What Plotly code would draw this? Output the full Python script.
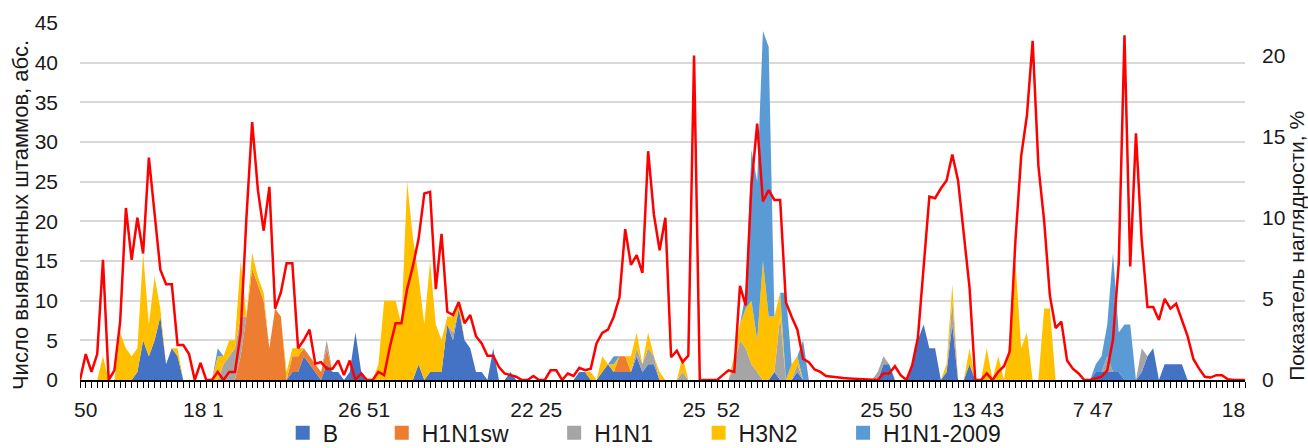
import plotly.graph_objects as go

# Weekly counts of detected influenza strains (stacked areas, left axis)
b_strain = [
    0, 0, 0, 0, 0, 0, 0, 0, 0, 0, 1, 5, 3, 5, 8, 2, 4,
    3, 0, 0, 0, 0, 0, 0, 0, 0, 0, 0, 0, 0, 0, 0, 0, 0,
    0, 0, 0, 1, 1, 3, 2, 1, 0, 2, 1, 1, 0, 1, 6, 1, 0,
    0, 0, 0, 0, 0, 0, 0, 0, 2, 0, 1, 1, 1, 7, 5, 9, 5,
    4, 1, 1, 0, 4, 0, 0, 1, 0, 0, 0, 0, 0, 0, 0, 0, 0,
    0, 0, 1, 1, 0, 0, 1, 2, 1, 1, 1, 1, 3, 1, 2, 2, 0,
    0, 0, 0, 0, 0, 0, 0, 0, 0, 0, 0, 0, 0, 0, 0, 0, 0,
    0, 0, 1, 0, 0, 0, 1, 0, 0, 0, 0, 0, 0, 0, 0, 0, 0,
    0, 0, 0, 0, 2, 2, 0, 0, 0, 2, 5, 7, 4, 4, 0, 1, 7,
    0, 0, 2, 0, 0, 0, 0, 0, 0, 0, 0, 0, 0, 0, 0, 0, 0,
    0, 0, 0, 0, 0, 0, 0, 1, 1, 1, 1, 1, 0, 0, 0, 1, 3,
    4, 0, 2, 2, 2, 2, 0, 0, 0, 0, 0, 0, 0, 0, 0, 0, 0,
]
h1n1sw = [
    0, 0, 0, 0, 0, 0, 0, 0, 0, 0, 0, 0, 0, 0, 0, 0, 0,
    0, 0, 0, 0, 0, 0, 0, 0, 0, 0, 0, 3, 8, 14, 12, 10, 4,
    9, 8, 0, 2, 2, 1, 1, 1, 1, 2, 0, 0, 0, 0, 0, 0, 0,
    0, 0, 0, 0, 0, 0, 0, 0, 0, 0, 0, 0, 0, 0, 0, 0, 0,
    0, 0, 0, 0, 0, 0, 0, 0, 0, 0, 0, 0, 0, 0, 0, 0, 0,
    0, 0, 0, 0, 0, 0, 0, 0, 0, 2, 2, 0, 0, 0, 0, 0, 0,
    0, 0, 0, 0, 0, 0, 0, 0, 0, 0, 0, 0, 0, 0, 0, 0, 0,
    0, 0, 0, 0, 0, 0, 0, 0, 0, 0, 0, 0, 0, 0, 0, 0, 0,
    0, 0, 0, 0, 0, 0, 0, 0, 0, 0, 0, 0, 0, 0, 0, 0, 0,
    0, 0, 0, 0, 0, 0, 0, 0, 0, 0, 0, 0, 0, 0, 0, 0, 0,
    0, 0, 0, 0, 0, 0, 0, 0, 0, 0, 0, 0, 0, 0, 0, 0, 0,
    0, 0, 0, 0, 0, 0, 0, 0, 0, 0, 0, 0, 0, 0, 0, 0, 0,
]
h1n1 = [
    0, 0, 0, 0, 0, 0, 0, 0, 0, 0, 0, 0, 0, 0, 0, 0, 0,
    0, 0, 0, 0, 0, 0, 0, 0, 2, 3, 4, 5, 0, 0, 0, 0, 0,
    0, 0, 0, 0, 0, 0, 0, 0, 0, 1, 0, 0, 0, 0, 0, 0, 0,
    0, 0, 0, 0, 0, 0, 0, 0, 0, 0, 0, 0, 0, 0, 1, 0, 0,
    0, 0, 0, 0, 0, 0, 0, 0, 0, 0, 0, 0, 0, 0, 0, 0, 0,
    0, 0, 0, 0, 0, 0, 0, 0, 0, 0, 0, 0, 1, 1, 2, 1, 0,
    0, 0, 0, 1, 0, 0, 0, 0, 0, 0, 0, 0, 2, 5, 4, 2, 1,
    0, 0, 0, 8, 0, 0, 1, 0, 0, 0, 0, 0, 0, 0, 0, 0, 0,
    0, 0, 0, 1, 1, 0, 0, 0, 0, 0, 0, 0, 0, 0, 0, 0, 3,
    0, 0, 0, 0, 0, 0, 0, 0, 0, 0, 0, 0, 0, 0, 0, 0, 0,
    0, 0, 0, 0, 0, 0, 0, 0, 0, 2, 0, 0, 0, 0, 0, 3, 0,
    0, 0, 0, 0, 0, 0, 0, 0, 0, 0, 0, 0, 0, 0, 0, 0, 0,
]
h3n2 = [
    0, 0, 0, 0, 3, 0, 0, 6, 4, 3, 3, 11, 4, 8, 1, 0, 0,
    1, 0, 0, 0, 0, 0, 0, 3, 1, 2, 1, 7, 0, 2, 1, 1, 0,
    0, 0, 1, 1, 1, 0, 0, 0, 0, 0, 0, 0, 0, 0, 0, 0, 0,
    0, 2, 10, 10, 10, 7, 25, 18, 11, 7, 14, 6, 4, 1, 2, 1, 0,
    0, 0, 0, 0, 0, 0, 0, 0, 0, 0, 0, 0, 0, 0, 0, 0, 0,
    0, 0, 0, 0, 1, 0, 2, 0, 1, 0, 0, 2, 2, 0, 2, 0, 1,
    0, 0, 0, 2, 0, 0, 0, 0, 0, 0, 0, 0, 1, 2, 5, 8, 4,
    15, 8, 7, 3, 0, 2, 1, 0, 0, 0, 0, 0, 0, 0, 0, 0, 0,
    0, 0, 0, 0, 0, 0, 0, 0, 0, 0, 0, 0, 0, 0, 0, 1, 2,
    0, 0, 2, 0, 0, 4, 0, 3, 0, 5, 15, 4, 6, 0, 0, 9, 9,
    0, 0, 0, 0, 0, 0, 0, 0, 0, 0, 0, 0, 0, 0, 0, 0, 0,
    0, 0, 0, 0, 0, 0, 0, 0, 0, 0, 0, 0, 0, 0, 0, 0, 0,
]
h1n1_2009 = [
    0, 0, 0, 0, 0, 0, 0, 0, 0, 0, 0, 0, 0, 0, 0, 0, 0,
    0, 0, 0, 0, 0, 0, 0, 1, 0, 0, 0, 0, 0, 0, 0, 0, 0,
    0, 0, 0, 0, 0, 0, 0, 0, 0, 0, 0, 0, 0, 0, 0, 0, 0,
    0, 0, 0, 0, 0, 0, 0, 0, 0, 0, 0, 0, 0, 0, 0, 0, 0,
    0, 0, 0, 0, 0, 0, 0, 0, 0, 0, 0, 0, 0, 0, 0, 0, 0,
    0, 0, 0, 0, 0, 0, 0, 0, 1, 0, 0, 0, 0, 0, 0, 0, 0,
    0, 0, 0, 0, 0, 0, 0, 0, 0, 0, 0, 0, 0, 0, 2, 19, 20,
    29, 34, 0, 0, 11, 0, 0, 5, 0, 0, 0, 0, 0, 0, 0, 0, 0,
    0, 0, 0, 0, 0, 0, 0, 0, 0, 0, 0, 0, 0, 0, 0, 0, 0,
    0, 0, 0, 0, 0, 0, 0, 0, 0, 0, 0, 0, 0, 0, 0, 0, 0,
    0, 0, 0, 0, 0, 0, 0, 1, 2, 4, 15, 5, 7, 7, 0, 0, 0,
    0, 0, 0, 0, 0, 0, 0, 0, 0, 0, 0, 0, 0, 0, 0, 0, 0,
]

# Weekly visibility index, % (red line, right axis)
visibility_pct = [
    0, 1.6, 0.5, 1.6, 7.4, 0, 0.6, 3.6, 10.6, 7.4, 10.0, 7.8, 13.7, 10.25, 6.8, 5.9, 5.9,
    2.15, 2.15, 1.6, 0, 1.06, 0, 0, 0.5, 0, 0.5, 0.5, 2.9, 10.0, 15.9, 11.7, 9.2, 11.9,
    4.4, 5.4, 7.2, 7.2, 1.95, 2.46, 3.1, 1.0, 1.1, 0.7, 0.7, 1.2, 0.3, 1.2, 0, 0.4, 0,
    0, 0.5, 0.3, 2.05, 3.5, 3.5, 5.6, 7.0, 8.7, 11.5, 11.6, 5.6, 9.0, 4.2, 4.0, 4.8, 3.5,
    4.0, 2.7, 2.25, 1.5, 1.5, 0.8, 0.4, 0.3, 0.2, 0, 0, 0.25, 0, 0, 0.6, 0.6, 0,
    0.4, 0.25, 0.75, 0.6, 0.7, 2.25, 2.9, 3.1, 3.9, 5.1, 9.3, 7.1, 7.7, 6.6, 14.1, 10.2, 8.0,
    10.0, 1.4, 1.8, 1.1, 1.5, 20.0, 0, 0, 0, 0, 0.3, 0.6, 0.5, 5.8, 4.6, 12.0, 15.8,
    11.0, 11.7, 11.1, 11.1, 4.8, 3.9, 3.1, 1.3, 1.1, 0.65, 0.5, 0.25, 0.2, 0.15, 0.12, 0.1, 0.08,
    0.05, 0.05, 0, 0, 0.4, 0.4, 0.85, 0.3, 0, 0.9, 2.6, 6.8, 11.3, 11.2, 11.8, 12.3, 13.9,
    12.3, 9.0, 5.7, 0, 0, 0.4, 0, 0.5, 0.85, 1.75, 8.6, 13.8, 16.3, 20.9, 13.2, 9.8, 5.2,
    3.2, 3.6, 1.2, 0.7, 0.4, 0, 0, 0.1, 0.2, 0.6, 2.5, 7.2, 21.25, 7.0, 15.2, 8.6, 4.5,
    4.5, 3.7, 5.0, 4.4, 4.7, 3.7, 2.7, 1.3, 0.7, 0.2, 0.15, 0.3, 0.3, 0.05, 0, 0, 0,
]

# Week-number labels shown under the axis and the week slots they belong to
week_labels = ["50", "18", "1", "26", "51", "22", "25", "25", "52", "25", "50", "13", "43", "7", "47", "18"]
week_slots = [1, 20, 24, 47, 52, 77, 82, 107, 113, 138, 143, 154, 159, 174, 178, 201]

series_names = ["B", "H1N1sw", "H1N1", "H3N2", "H1N1-2009"]
series_values = [b_strain, h1n1sw, h1n1, h3n2, h1n1_2009]
series_colors = ["#4472C4", "#ED7D31", "#A5A5A5", "#FFC000", "#5B9BD5"]

FONT = "Liberation Sans, Arial, sans-serif"
TEXT = "#1a1a1a"
weeks = list(range(len(b_strain)))

fig = go.Figure()

for name, vals, color in zip(series_names, series_values, series_colors):
    fig.add_trace(go.Scatter(
        x=weeks, y=vals, name=name, mode="lines",
        stackgroup="strains", line=dict(width=0, color=color),
        fillcolor=color, showlegend=False, legendgroup=name,
        hoverinfo="skip",
    ))

fig.add_trace(go.Scatter(
    x=weeks, y=visibility_pct, mode="lines", yaxis="y2",
    line=dict(color="#FF0000", width=2.5), showlegend=False,
    name="Показатель наглядности",
))

# one legend box per strain so the entries sit on their own positions
legend_x = [0.174, 0.259, 0.407, 0.531, 0.655]
for i, (name, color) in enumerate(zip(series_names, series_colors)):
    key = "legend" if i == 0 else f"legend{i + 1}"
    fig.add_trace(go.Scatter(
        x=[None], y=[None], mode="markers", name=name,
        marker=dict(symbol="square", size=14, color=color),
        legendgroup=name, legend=key, showlegend=True,
    ))

legend_common = dict(
    orientation="h", yanchor="middle", y=-0.148, xanchor="left",
    font=dict(family=FONT, size=23, color=TEXT),
    bgcolor="rgba(0,0,0,0)", borderwidth=0, itemclick=False,
)
legend_layout = {}
for i, lx in enumerate(legend_x):
    key = "legend" if i == 0 else f"legend{i + 1}"
    legend_layout[key] = dict(legend_common, x=lx)

fig.update_layout(
    width=1308, height=448,
    margin=dict(l=80, r=63, t=23, b=68, autoexpand=False),
    paper_bgcolor="white", plot_bgcolor="white",
    font=dict(family=FONT, size=20, color=TEXT),
    xaxis=dict(
        range=[0, len(b_strain) - 1],
        tickmode="array", tickvals=week_slots, ticktext=week_labels,
        ticks="outside", ticklen=6, tickwidth=1, tickcolor="black",
        showline=True, linecolor="black", linewidth=2,
        showgrid=False, zeroline=False,
        minor=dict(dtick=1, tick0=0, ticks="outside", ticklen=6,
                   tickwidth=1, tickcolor="black", showgrid=False),
        tickfont=dict(family=FONT, size=21, color=TEXT),
        ticklabelstandoff=4,
    ),
    yaxis=dict(
        range=[0, 45], tickmode="linear", tick0=0, dtick=5,
        showgrid=True, gridcolor="#D9D9D9", gridwidth=1.5,
        zeroline=False, showline=False, ticks="",
        tickfont=dict(family=FONT, size=21, color=TEXT),
        ticklabelstandoff=21,
    ),
    yaxis2=dict(
        range=[0, 22], tickmode="array", tickvals=[0, 5, 10, 15, 20],
        overlaying="y", side="right", showgrid=False, zeroline=False,
        showline=False, ticks="",
        tickfont=dict(family=FONT, size=21, color=TEXT),
        ticklabelstandoff=16,
    ),
    annotations=[
        dict(text="Число выявленных штаммов, абс.", textangle=-90,
             xref="paper", yref="paper", x=-0.0515, y=0.462,
             xanchor="center", yanchor="middle", showarrow=False,
             font=dict(family=FONT, size=22, color=TEXT)),
        dict(text="Показатель наглядности, %", textangle=-90,
             xref="paper", yref="paper", x=1.0435, y=0.375,
             xanchor="center", yanchor="middle", showarrow=False,
             font=dict(family=FONT, size=21, color=TEXT)),
    ],
    **legend_layout,
)

fig.write_html("out.html")
